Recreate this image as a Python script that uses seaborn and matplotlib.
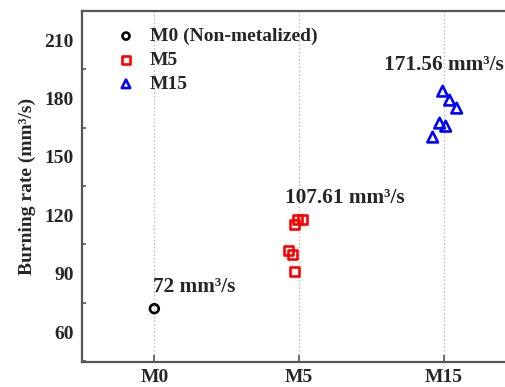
import matplotlib
matplotlib.use("Agg")
import matplotlib.pyplot as plt
import seaborn as sns
import pandas as pd
from matplotlib.ticker import MultipleLocator

# ---- data ----
categories = ["M0", "M5", "M15"]
legend_labels = ["M0 (Non-metalized)", "M5", "M15"]
colors = ["black", "red", "blue"]
markers = ["o", "s", "^"]

m0_values = [72.0]
m0_offsets = [0.0]
m5_values = [102.1, 99.6, 91.3, 115.5, 118.0, 118.0]
m5_offsets = [-0.076, -0.048, -0.028, -0.034, -0.007, 0.021]
m15_values = [183.8, 179.2, 175.1, 167.4, 165.8, 160.2]
m15_offsets = [-0.007, 0.041, 0.090, -0.028, 0.014, -0.076]

mean_labels = ["72 mm³/s", "107.61 mm³/s", "171.56 mm³/s"]
mean_label_dx = [-0.01, -0.10, -0.41]
mean_label_y = [83.0, 128.8, 197.2]

yticks = [60, 90, 120, 150, 180, 210]

# ---- build table ----
rows = []
for ci, (vals, offs) in enumerate([(m0_values, m0_offsets),
                                   (m5_values, m5_offsets),
                                   (m15_values, m15_offsets)]):
    for v, o in zip(vals, offs):
        rows.append({"group": legend_labels[ci], "x": ci + o, "y": v})
df = pd.DataFrame(rows)

sns.set_style("white")
plt.rcParams["font.family"] = ["Liberation Serif", "DejaVu Serif"]
plt.rcParams["font.weight"] = "bold"

fig = plt.figure(figsize=(5.06, 3.87), dpi=100)
ax = fig.add_axes([82 / 506, 1 - 362 / 387, (516 - 82) / 506, (362 - 11) / 387])

sizes = [40, 42, 58]
for i, lab in enumerate(legend_labels):
    sub = df[df["group"] == lab]
    sns.scatterplot(data=sub, x="x", y="y", ax=ax, marker=markers[i],
                    color=colors[i], s=sizes[i], label=lab, zorder=3)

for coll, c in zip(ax.collections, colors):
    coll.set_facecolor("none")
    coll.set_edgecolor(c)
    coll.set_linewidth(1.9)

ax.set_xlim(-0.5, 2.5)
ax.set_ylim(44.6, 225)
ax.set_xticks(range(len(categories)))
ax.set_xticklabels(categories)
ax.set_yticks(yticks)
ax.yaxis.set_minor_locator(MultipleLocator(15))

ax.set_xlabel("")
ax.set_ylabel("Burning rate (mm³/s)", fontsize=14, fontweight="bold", labelpad=6)

ax.tick_params(axis="both", which="major", direction="in", length=5, width=1.2,
               color="#555555", labelsize=14)
ax.tick_params(axis="y", which="major", pad=6)
ax.tick_params(axis="x", which="major", pad=5)
ax.tick_params(axis="y", which="minor", direction="in", length=3, width=1.2,
               color="#555555", left=True)
ax.tick_params(axis="x", which="both", top=False, bottom=True)
ax.tick_params(axis="y", which="both", right=False)
for lbl in ax.get_xticklabels() + ax.get_yticklabels():
    lbl.set_fontweight("bold")

for s in ax.spines.values():
    s.set_color("#555555")
    s.set_linewidth(1.6)

ax.grid(axis="x", linestyle=":", color="#bbbbbb", linewidth=1.0)
ax.grid(axis="y", visible=False)
ax.set_axisbelow(True)

for ci, (dx, ty, t) in enumerate(zip(mean_label_dx, mean_label_y, mean_labels)):
    ax.text(ci + dx, ty, t, fontsize=15.3, fontweight="bold", ha="left", va="center")

leg = ax.legend(loc="upper left", frameon=False, fontsize=14,
                bbox_to_anchor=(0.061, 0.975), handlelength=1.0,
                handletextpad=0.73, labelspacing=0.32, markerscale=0.8,
                borderaxespad=0.0)
for t in leg.get_texts():
    t.set_fontweight("bold")

fig.savefig("out.png", dpi=100)
